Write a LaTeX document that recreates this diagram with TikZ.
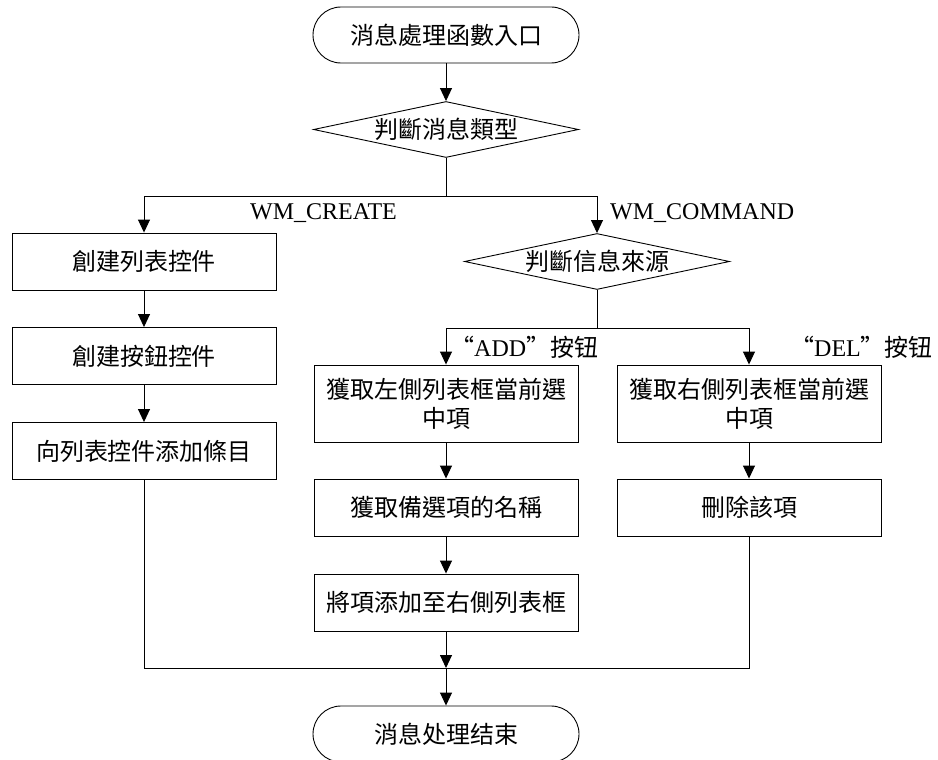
\documentclass[tikz,border=0pt]{standalone}
\usepackage{fontspec}
\setmainfont{Liberation Serif}
\newfontfamily\cjk{Noto Sans CJK TC}
\usetikzlibrary{arrows.meta,shapes.geometric}

\tikzset{
  line/.style={draw=black, line width=0.9pt},
  arr/.style={line, -{Triangle[length=13pt,width=12pt]}},
  txt/.style={font=\fontsize{24pt}{29pt}\selectfont\cjk},
  lbl/.style={font=\fontsize{24pt}{29pt}\selectfont, inner sep=0pt, anchor=west},
  procbox/.style={txt, line, rectangle, minimum width=264pt, minimum height=57pt,
    inner sep=0pt, align=center},
  termbox/.style={txt, line, rectangle, rounded corners=28pt, minimum width=266pt,
    minimum height=56pt, inner sep=0pt},
  decide/.style={txt, line, diamond, aspect=4.8, minimum width=265pt,
    minimum height=56pt, inner sep=0pt},
}

\begin{document}
\begin{tikzpicture}[x=1pt,y=-1pt]
\useasboundingbox (0,0) rectangle (938,760);

% main spine
\node[termbox] (start) at (446,35) {消息處理函數入口};
\node[decide]  (type)  at (446,129.5) {判斷消息類型};

% WM_CREATE branch
\node[procbox] (mklist) at (144,261.5) {創建列表控件};
\node[procbox] (mkbtn)  at (144,356)   {創建按鈕控件};
\node[procbox] (additem) at (144,451)  {向列表控件添加條目};

% WM_COMMAND branch
\node[decide]  (src) at (597,261.5) {判斷信息來源};

\node[procbox, minimum height=77pt] (getleft) at (446,403.5) {獲取左側列表框當前選\\中項};
\node[procbox] (getname) at (446,507.5) {獲取備選項的名稱};
\node[procbox] (toright) at (446,602.5) {將項添加至右側列表框};

\node[procbox, minimum height=77pt] (getright) at (749,403.5) {獲取右側列表框當前選\\中項};
\node[procbox] (delitem) at (749,507.5) {刪除該項};

\node[termbox] (finish) at (446,734) {消息处理结束};

% branch labels
\node[lbl] (lcreate)  at (250,213) {WM\_CREATE};
\node[lbl] (lcommand) at (610,213) {WM\_COMMAND};
\node[lbl] (ladd) at (450,347) {{\cjk “}ADD{\cjk ”按钮}};
\node[lbl] (ldel) at (790,347) {{\cjk “}DEL{\cjk ”按钮}};

% junction points
\coordinate (split1) at (446,196);
\coordinate (split2) at (597,328);
\coordinate (merge)  at (446,668);

% connectors
\draw[arr] (start) -- (type);
\draw[line] (type) -- (split1);
\draw[arr] (split1) -| (mklist);
\draw[arr] (split1) -| (src);
\draw[arr] (mklist) -- (mkbtn);
\draw[arr] (mkbtn) -- (additem);

\draw[line] (src) -- (split2);
\draw[arr] (split2) -| (getleft);
\draw[arr] (split2) -| (getright);
\draw[arr] (getleft) -- (getname);
\draw[arr] (getname) -- (toright);
\draw[arr] (getright) -- (delitem);

\draw[arr] (toright) -- (merge);
\draw[line] (additem) |- (merge);
\draw[line] (delitem) |- (merge);
\draw[arr] (merge) -- (finish);
\end{tikzpicture}
\end{document}
